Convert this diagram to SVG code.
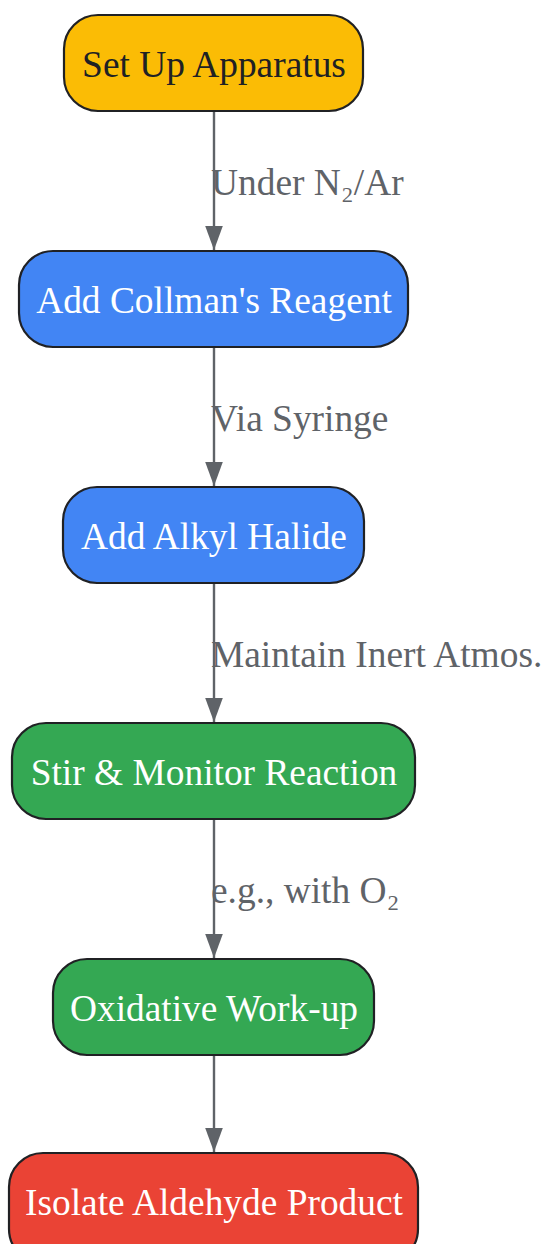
<svg xmlns="http://www.w3.org/2000/svg" width="544" height="1244" viewBox="0 0 544 1244">
<defs>
<style>
.node rect{stroke:#202124;stroke-width:2.2}
.nt{font-family:"Liberation Serif","Times New Roman",serif;font-size:37.4px;text-anchor:middle}
.el{font-family:"Liberation Serif","Times New Roman",serif;font-size:37.4px;fill:#5f6368}
.edge{stroke:#5f6368;stroke-width:2.4;fill:none}
</style>
<marker id="ah" markerUnits="userSpaceOnUse" markerWidth="24" markerHeight="32" refX="30" refY="11" orient="auto" viewBox="0 0 30 22">
<path d="M0,0 L30,11 L0,22 Z" fill="#5f6368"/>
</marker>
</defs>
<rect width="544" height="1244" fill="#ffffff"/>
<g id="connectors">
<line class="edge" x1="214" y1="111" x2="214" y2="250" marker-end="url(#ah)"/>
<line class="edge" x1="214" y1="347" x2="214" y2="486" marker-end="url(#ah)"/>
<line class="edge" x1="214" y1="583" x2="214" y2="722" marker-end="url(#ah)"/>
<line class="edge" x1="214" y1="819" x2="214" y2="958" marker-end="url(#ah)"/>
<line class="edge" x1="214" y1="1055" x2="214" y2="1152" marker-end="url(#ah)"/>
<text class="el" x="211" y="195">Under N₂/Ar</text>
<text class="el" x="211" y="431">Via Syringe</text>
<text class="el" x="211" y="667">Maintain Inert Atmos.</text>
<text class="el" x="211" y="903">e.g., with O₂</text>
</g>
<g id="n1" class="node">
<rect x="64" y="15" width="299" height="96" rx="34" fill="#fbbc05"/>
<text class="nt" x="214" y="77" fill="#202124">Set Up Apparatus</text>
</g>
<g id="n2" class="node">
<rect x="19" y="251" width="389" height="96" rx="34" fill="#4285f4"/>
<text class="nt" x="214" y="313" fill="#ffffff">Add Collman's Reagent</text>
</g>
<g id="n3" class="node">
<rect x="63" y="487" width="301" height="96" rx="34" fill="#4285f4"/>
<text class="nt" x="214" y="549" fill="#ffffff">Add Alkyl Halide</text>
</g>
<g id="n4" class="node">
<rect x="12" y="723" width="403" height="96" rx="34" fill="#34a853"/>
<text class="nt" x="214" y="785" fill="#ffffff">Stir &amp; Monitor Reaction</text>
</g>
<g id="n5" class="node">
<rect x="53" y="959" width="321" height="96" rx="34" fill="#34a853"/>
<text class="nt" x="214" y="1021" fill="#ffffff">Oxidative Work-up</text>
</g>
<g id="n6" class="node">
<rect x="9" y="1153" width="409" height="110" rx="34" fill="#ea4335"/>
<text class="nt" x="214" y="1215" fill="#ffffff">Isolate Aldehyde Product</text>
</g>
</svg>
